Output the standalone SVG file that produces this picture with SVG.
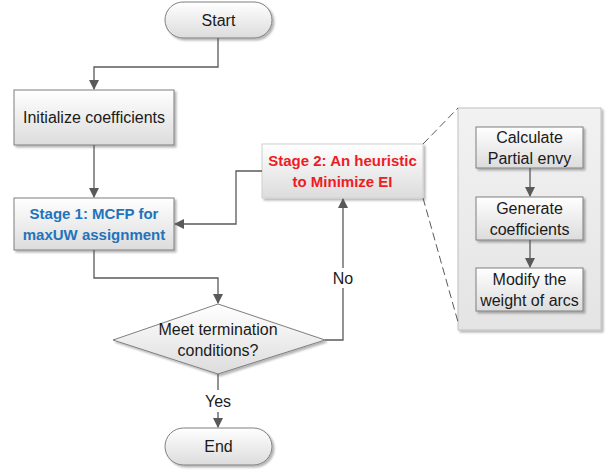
<svg xmlns="http://www.w3.org/2000/svg" width="610" height="470" viewBox="0 0 610 470">
<style>
.box{stroke:#7f7f7f;stroke-width:1;}
.t{font-family:"Liberation Sans",Arial,sans-serif;font-size:16px;fill:#1a1a1a;text-anchor:middle;}
.b{font-weight:bold;font-size:15px;}
.blue{fill:#1f74bb;}
.red{fill:#ee1c25;}
.c{fill:none;stroke:#595959;stroke-width:1.3;}
.dash{fill:none;stroke:#595959;stroke-width:1;stroke-dasharray:8,4;}
.lbl{font-family:"Liberation Sans",Arial,sans-serif;font-size:16px;fill:#1a1a1a;text-anchor:middle;}
</style>
<defs>
<linearGradient id="g" x1="0" y1="0" x2="0" y2="1">
<stop offset="0" stop-color="#ffffff"/>
<stop offset="1" stop-color="#dcdcdc"/>
</linearGradient>
<linearGradient id="gp" x1="0" y1="0" x2="0" y2="1">
<stop offset="0" stop-color="#f2f2f2"/>
<stop offset="1" stop-color="#e4e4e4"/>
</linearGradient>
<filter id="sh" x="-10%" y="-10%" width="130%" height="140%">
<feGaussianBlur in="SourceAlpha" stdDeviation="1.2"/>
<feOffset dx="2" dy="2" result="o"/>
<feComponentTransfer><feFuncA type="linear" slope="0.3"/></feComponentTransfer>
<feMerge><feMergeNode/><feMergeNode in="SourceGraphic"/></feMerge>
</filter>
<marker id="ar" markerWidth="10" markerHeight="10" refX="9" refY="5" orient="auto" markerUnits="userSpaceOnUse">
<path d="M0,0 L10,5 L0,10 z" fill="#595959"/>
</marker>
</defs>

<g id="panel">
<rect x="458" y="108" width="143" height="222" fill="url(#gp)" stroke="#bfbfbf" filter="url(#sh)"/>
</g>

<g id="start">
<rect class="box" x="165" y="2" width="107" height="36" rx="18" fill="url(#g)" filter="url(#sh)"/>
<text class="t" x="218.5" y="26">Start</text>
</g>

<g id="init">
<rect class="box" x="14" y="90" width="160" height="55" fill="url(#g)" filter="url(#sh)"/>
<text class="t" x="94" y="123">Initialize coefficients</text>
</g>

<g id="stage1">
<rect class="box" x="14" y="198" width="160" height="52" fill="url(#g)" filter="url(#sh)"/>
<text class="t b blue" x="94" y="219">Stage 1: MCFP for</text>
<text class="t b blue" x="94" y="240">maxUW assignment</text>
</g>

<g id="stage2">
<rect x="262" y="144" width="161" height="54" fill="url(#g)" stroke="#d0d0d0" filter="url(#sh)"/>
<text class="t b red" x="342.5" y="166">Stage 2: An heuristic</text>
<text class="t b red" x="342.5" y="187">to Minimize EI</text>
</g>

<g id="decision">
<polygon class="box" points="218,304 325,340 218,374 113,340" fill="url(#g)" filter="url(#sh)"/>
<text class="t" x="218" y="335">Meet termination</text>
<text class="t" x="218" y="356">conditions?</text>
</g>

<g id="end">
<rect class="box" x="165" y="428" width="107" height="37" rx="18.5" fill="url(#g)" filter="url(#sh)"/>
<text class="t" x="218.5" y="452">End</text>
</g>

<g id="calc">
<rect class="box" x="476" y="127" width="107" height="41" fill="url(#g)" filter="url(#sh)"/>
<text class="t" x="529.5" y="143">Calculate</text>
<text class="t" x="529.5" y="164">Partial envy</text>
</g>

<g id="gen">
<rect class="box" x="476" y="197" width="107" height="43" fill="url(#g)" filter="url(#sh)"/>
<text class="t" x="529.5" y="214">Generate</text>
<text class="t" x="529.5" y="235">coefficients</text>
</g>

<g id="modify">
<rect class="box" x="476" y="268" width="107" height="43" fill="url(#g)" filter="url(#sh)"/>
<text class="t" x="529.5" y="285">Modify the</text>
<text class="t" x="529.5" y="306">weight of arcs</text>
</g>

<g id="connectors">
<polyline class="c" points="218,38 218,67 94,67 94,89" marker-end="url(#ar)"/>
<polyline class="c" points="94,145 94,197" marker-end="url(#ar)"/>
<polyline class="c" points="262,171 236,171 236,224 175,224" marker-end="url(#ar)"/>
<polyline class="c" points="94,250 94,278 218,278 218,303" marker-end="url(#ar)"/>
<polyline class="c" points="325,340 343,340 343,288"/>
<polyline class="c" points="343,268 343,199" marker-end="url(#ar)"/>
<polyline class="c" points="218,374 218,390"/>
<polyline class="c" points="218,412 218,427" marker-end="url(#ar)"/>
<polyline class="c" points="530,168 530,196" marker-end="url(#ar)"/>
<polyline class="c" points="530,240 530,267" marker-end="url(#ar)"/>
<line class="dash" x1="423" y1="144" x2="458" y2="108"/>
<line class="dash" x1="423" y1="198" x2="458" y2="322"/>
<text class="lbl" x="343" y="284">No</text>
<text class="lbl" x="218" y="407">Yes</text>
</g>
</svg>
